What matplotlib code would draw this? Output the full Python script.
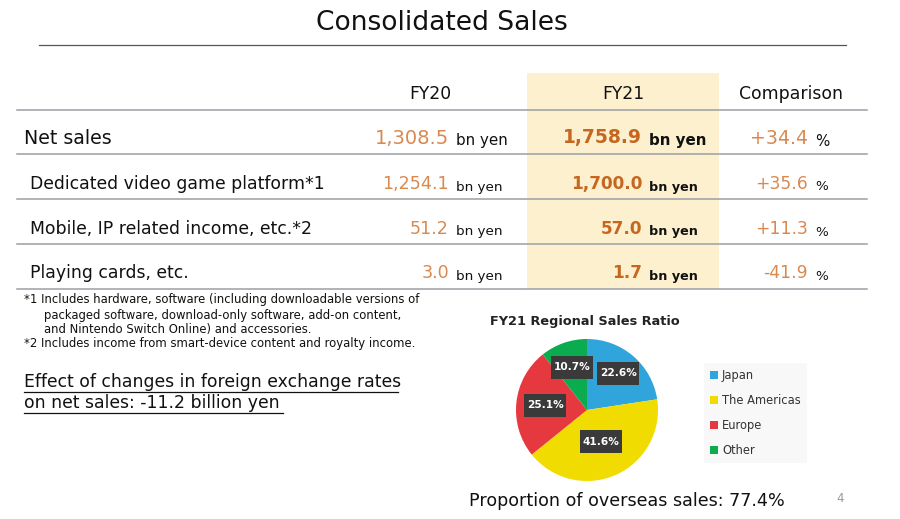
import matplotlib
matplotlib.use('Agg')
import matplotlib.pyplot as plt
import numpy as np

W, H = 900, 519

row_labels = ['Net sales', 'Dedicated video game platform*1',
              'Mobile, IP related income, etc.*2', 'Playing cards, etc.']
fy20 = ['1,308.5', '1,254.1', '51.2', '3.0']
fy21 = ['1,758.9', '1,700.0', '57.0', '1.7']
comparison = ['+34.4', '+35.6', '+11.3', '-41.9']
col_headers = ['FY20', 'FY21', 'Comparison']

regions = ['Japan', 'The Americas', 'Europe', 'Other']
region_share = [22.6, 41.6, 25.1, 10.7]
region_colors = ['#30a5dc', '#f0dc00', '#e5383f', '#0bab4f']

notes = ['*1 Includes hardware, software (including downloadable versions of',
         'packaged software, download-only software, add-on content,',
         'and Nintendo Switch Online) and accessories.',
         '*2 Includes income from smart-device content and royalty income.']

ORANGE = '#d9894f'
DARK_ORANGE = '#c5671f'
LINE = '#9a9ea3'

plt.rcParams['font.family'] = 'DejaVu Sans'
fig = plt.figure(figsize=(W / 100, H / 100), dpi=100)

# whole slide in pixel coordinates, y pointing down
ax = fig.add_axes([0, 0, 1, 1])
ax.set_xlim(0, W)
ax.set_ylim(H, 0)
ax.axis('off')

ax.text(442, 23, 'Consolidated Sales', fontsize=19.1, ha='center', va='center', color='#111111')
ax.plot([39, 846], [44.5, 44.5], color='#555555', lw=0.9)

ax.add_patch(plt.Rectangle((527, 73), 192, 216, color='#fdf0cf', lw=0))

for x, name in zip([430, 623, 791], col_headers):
    ax.text(x, 94, name, fontsize=12.4, ha='center', va='center', color='#111111')

for y in [110, 154, 199, 244, 289]:
    ax.plot([17, 867], [y, y], color=LINE, lw=1.1)

row_y = [138, 184, 229, 273.5]
label_x = [24, 30, 30, 30]
# first row is set larger than the others
label_size = [13.7, 12.4, 12.4, 12.4]
num_size = [14, 12.6, 12.6, 12.6]
bold_size = [13.5, 12.2, 12.2, 12.2]
unit_size = [10.9, 9.7, 9.7, 9.7]
bold_unit_size = [10.9, 9.2, 9.2, 9.2]

for i in range(len(row_labels)):
    y = row_y[i]
    ax.text(label_x[i], y, row_labels[i], fontsize=label_size[i], va='center', color='#111111')
    ax.text(449, y, fy20[i], fontsize=num_size[i], ha='right', va='center', color=ORANGE)
    ax.text(456, y + 3, 'bn yen', fontsize=unit_size[i], va='center', color='#111111')
    ax.text(642, y, fy21[i], fontsize=bold_size[i], ha='right', va='center', color=DARK_ORANGE, fontweight='bold')
    ax.text(649, y + 3, 'bn yen', fontsize=bold_unit_size[i], va='center', color='#111111', fontweight='bold')
    ax.text(808, y, comparison[i], fontsize=num_size[i] - 0.3, ha='right', va='center', color=ORANGE)
    ax.text(815, y + 3, '%', fontsize=unit_size[i], va='center', color='#111111')

note_x = [24, 44, 44, 24]
for x, y, line in zip(note_x, [300, 315, 329, 344], notes):
    ax.text(x, y, line, fontsize=8.4, va='center', color='#111111')

ax.text(24, 382, 'Effect of changes in foreign exchange rates', fontsize=12.4, va='center', color='#111111')
ax.text(24, 403, 'on net sales: -11.2 billion yen', fontsize=12.4, va='center', color='#111111')
ax.plot([24, 398], [392, 392], color='#111111', lw=0.9)
ax.plot([24, 283], [413, 413], color='#111111', lw=0.9)

ax.text(585, 321, 'FY21 Regional Sales Ratio', fontsize=9.25, ha='center', va='center',
        fontweight='bold', color='#222222')
ax.text(627, 501, 'Proportion of overseas sales: 77.4%', fontsize=12.6, ha='center', va='center', color='#111111')
ax.text(840, 499, '4', fontsize=8.5, ha='center', va='center', color='#999999')

# pie in its own axes, square in pixels
cx, cy, r = 587, 410, 71
pie_ax = fig.add_axes([(cx - r) / W, 1 - (cy + r) / H, 2 * r / W, 2 * r / H])
wedges, _ = pie_ax.pie(region_share, colors=region_colors, startangle=90, counterclock=False,
                       radius=1, wedgeprops={'linewidth': 0})
pie_ax.set_xlim(-1, 1)
pie_ax.set_ylim(-1, 1)

# boxes are wider than text padding alone gives, so draw them as rectangles
box_w, box_h = 42 / r, 23 / r
label_r = [0.68, 0.49, 0.59, 0.64]
for w, share, lr in zip(wedges, region_share, label_r):
    mid = np.deg2rad((w.theta1 + w.theta2) / 2)
    tx, ty = lr * np.cos(mid), lr * np.sin(mid)
    pie_ax.add_patch(plt.Rectangle((tx - box_w / 2, ty - box_h / 2), box_w, box_h,
                                   facecolor='#3a3a3a', edgecolor='none', zorder=4))
    pie_ax.text(tx, ty, f'{share}%', fontsize=7.6, fontweight='bold',
                color='white', ha='center', va='center', zorder=5)

leg = fig.legend(wedges, regions, loc='upper left', bbox_to_anchor=(704 / W, 1 - 363 / H),
                 fontsize=8.3, handlelength=0.7, handleheight=0.7, handletextpad=0.35,
                 labelspacing=1.03, borderaxespad=0, borderpad=0.52, fancybox=False,
                 facecolor='#f8f8f8', edgecolor='none', framealpha=1, labelcolor='#333333')

fig.savefig('out.png', dpi=100)
